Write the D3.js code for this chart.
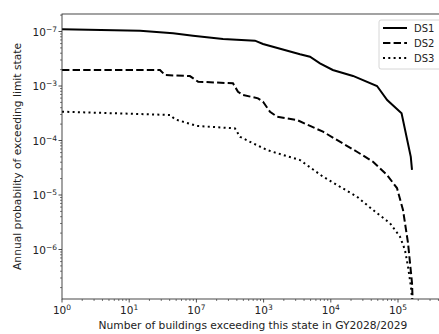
<!DOCTYPE html>
<html>
<head>
<meta charset="utf-8">
<script src="https://cdn.jsdelivr.net/npm/d3@7"></script>
<style>
  body { margin: 0; background: #fff; }
  svg text { font-family: "DejaVu Sans", sans-serif; fill: #222; }
</style>
</head>
<body>
<svg id="chart" width="439" height="334"></svg>
<script>
// number of buildings exceeding, annual probability
var ds1_n = [1, 14.5, 45, 89, 249, 745, 980, 3480, 4900, 6900, 10700, 21400, 48700, 69000, 113000, 155000, 161600];
var ds1_p = [0.0110, 0.01035, 0.00927, 0.00837, 0.00728, 0.00678, 0.0059, 0.00382, 0.00345, 0.00261, 0.00197, 0.00153, 0.00100, 0.000553, 0.000316, 5.0e-5, 2.88e-5];

var ds2_n = [1, 28.7, 34, 80, 106, 350, 416, 494, 826, 980, 1245, 1585, 3140, 7650, 24500, 42500, 68600, 96600, 118700, 140900, 161600, 167200];
var ds2_p = [0.00197, 0.00197, 0.00159, 0.00152, 0.0012, 0.00112, 0.000785, 0.000684, 0.000594, 0.000515, 0.000337, 0.000273, 0.000238, 0.000145, 6.22e-5, 4.08e-5, 2.33e-5, 1.34e-5, 5.31e-6, 1.32e-6, 2.43e-7, 8e-8];

var ds3_n = [1, 40.5, 48, 102, 375, 446, 695, 1125, 1945, 3480, 7650, 24500, 42500, 76000, 107000, 127000, 140900, 156000, 167000];
var ds3_p = [3.38e-4, 2.94e-4, 2.45e-4, 1.85e-4, 1.67e-4, 1.17e-4, 8.89e-5, 6.7e-5, 5.42e-5, 4.38e-5, 2.17e-5, 9.3e-6, 5.31e-6, 3.03e-6, 1.72e-6, 9.8e-7, 4.83e-7, 2.07e-7, 8e-8];

var series_names = ["DS1", "DS2", "DS3"];
var x_tick_vals = [1, 10, 100, 1000, 10000, 100000];
var x_tick_labels = [["10", "0"], ["10", "1"], ["10", "7"], ["10", "3"], ["10", "4"], ["10", "5"]];
var y_tick_vals = [1e-2, 1e-3, 1e-4, 1e-5, 1e-6];
var y_tick_labels = [["10", "\u22127"], ["10", "\u22123"], ["10", "\u22124"], ["10", "\u22125"], ["10", "\u22126"]];

var svg = d3.select("#chart");
var m_left = 62, m_top = 14, m_bottom = 299;
var dec_x = 67.2, dec_y = 54.5;
var m_right = m_left + 5.7 * dec_x; // axes run past the picture edge

var x = d3.scaleLog().domain([1, Math.pow(10, 5.7)]).range([m_left, m_right]);
var y = d3.scaleLog()
  .domain([Math.pow(10, -6 - (m_bottom - (31.5 + 4 * dec_y)) / dec_y), Math.pow(10, -2 + (31.5 - m_top) / dec_y)])
  .range([m_bottom, m_top]);

// clip
svg.append("clipPath").attr("id", "clip")
  .append("rect").attr("x", m_left).attr("y", m_top).attr("width", m_right - m_left).attr("height", m_bottom - m_top);

var series = [
  { name: "DS1", n: ds1_n, p: ds1_p, dash: null },
  { name: "DS2", n: ds2_n, p: ds2_p, dash: "7.4,3.2" },
  { name: "DS3", n: ds3_n, p: ds3_p, dash: "2,3.3" }
];

var line = d3.line()
  .x(function(d) { return x(d[0]); })
  .y(function(d) { return y(d[1]); });

var g = svg.append("g").attr("clip-path", "url(#clip)");
series.forEach(function(s) {
  var pts = s.n.map(function(v, i) { return [v, s.p[i]]; });
  g.append("path")
    .attr("d", line(pts))
    .attr("fill", "none")
    .attr("stroke", "#000")
    .attr("stroke-width", 2)
    .attr("stroke-dasharray", s.dash);
});

// minor ticks
function minors(lo, hi) {
  var out = [];
  for (var e = lo; e <= hi; e++) {
    for (var m = 2; m <= 9; m++) out.push(m * Math.pow(10, e));
  }
  return out;
}
var xminor = minors(0, 5).filter(function(v) { return x(v) <= m_right; });
var yminor = minors(-7, -2).filter(function(v) { return y(v) >= m_top && y(v) <= m_bottom; });

var ax = svg.append("g");
xminor.forEach(function(v) {
  ax.append("line").attr("x1", x(v)).attr("x2", x(v)).attr("y1", m_bottom).attr("y2", m_bottom + 2)
    .attr("stroke", "#222").attr("stroke-width", 0.6);
});
yminor.forEach(function(v) {
  ax.append("line").attr("x1", m_left - 2).attr("x2", m_left).attr("y1", y(v)).attr("y2", y(v))
    .attr("stroke", "#222").attr("stroke-width", 0.6);
});
x_tick_vals.forEach(function(v, i) {
  ax.append("line").attr("x1", x(v)).attr("x2", x(v)).attr("y1", m_bottom).attr("y2", m_bottom + 3.5)
    .attr("stroke", "#222").attr("stroke-width", 0.8);
  var t = ax.append("text").attr("x", x(v)).attr("y", m_bottom + 15).attr("text-anchor", "middle")
    .style("font-size", "10.5px");
  t.append("tspan").text(x_tick_labels[i][0]);
  t.append("tspan").attr("dy", -4).style("font-size", "7.5px").text(x_tick_labels[i][1]);
});
y_tick_vals.forEach(function(v, i) {
  ax.append("line").attr("x1", m_left - 3.5).attr("x2", m_left).attr("y1", y(v)).attr("y2", y(v))
    .attr("stroke", "#222").attr("stroke-width", 0.8);
  var t = ax.append("text").attr("x", m_left - 5).attr("y", y(v) + 4).attr("text-anchor", "end")
    .style("font-size", "10.5px");
  t.append("tspan").text(y_tick_labels[i][0]);
  t.append("tspan").attr("dy", -4).style("font-size", "7.5px").text(y_tick_labels[i][1]);
});

// spines
svg.append("rect").attr("x", m_left).attr("y", m_top).attr("width", m_right - m_left).attr("height", m_bottom - m_top)
  .attr("fill", "none").attr("stroke", "#333").attr("stroke-width", 0.9);

// axis labels
svg.append("text").attr("x", 253).attr("y", 329).attr("text-anchor", "middle")
  .style("font-size", "10.7px").text("Number of buildings exceeding this state in GY2028/2029");
svg.append("text").attr("transform", "translate(21," + ((m_top + m_bottom) / 2) + ") rotate(-90)")
  .attr("text-anchor", "middle").style("font-size", "10.7px")
  .text("Annual probability of exceeding limit state");

// legend
var lg = svg.append("g");
lg.append("rect").attr("x", 379).attr("y", 20).attr("width", 70).attr("height", 49).attr("rx", 2)
  .attr("fill", "#fff").attr("fill-opacity", 0.8).attr("stroke", "#ccc").attr("stroke-width", 0.8);
series.forEach(function(s, i) {
  var yy = 28 + i * 15;
  lg.append("line").attr("x1", 383).attr("x2", 407).attr("y1", yy).attr("y2", yy)
    .attr("stroke", "#000").attr("stroke-width", 2).attr("stroke-dasharray", s.dash);
  lg.append("text").attr("x", 414).attr("y", yy + 3.5).style("font-size", "10px").text(series_names[i]);
});
</script>
</body>
</html>
